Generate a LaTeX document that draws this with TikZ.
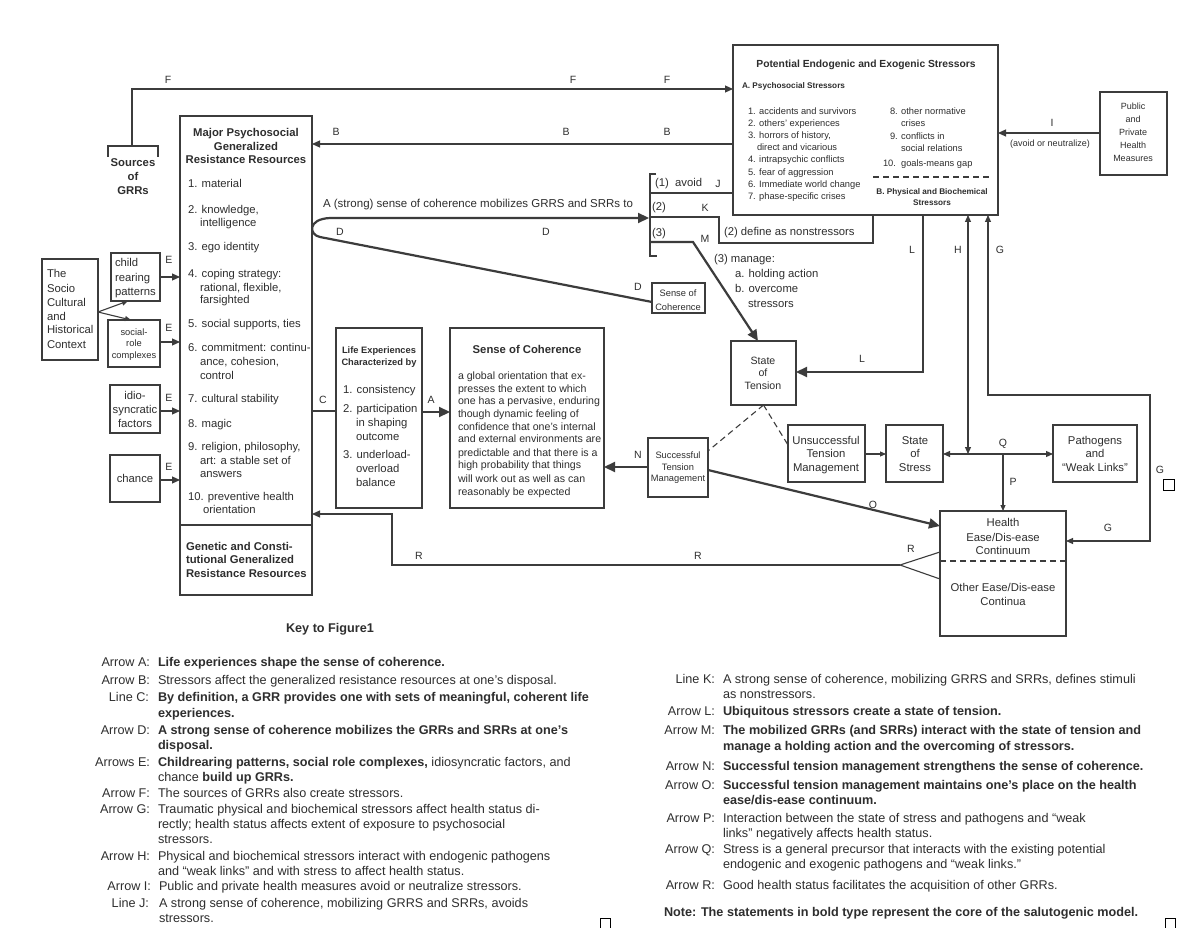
\documentclass[tikz,border=0pt]{standalone}
\usepackage{fontspec}
\setmainfont{Liberation Sans}
\usetikzlibrary{arrows.meta}
\definecolor{ink}{HTML}{2E2E2E}
\definecolor{lin}{HTML}{3C3C3C}
\newcounter{tn}
\newcommand\fsz[1]{\fontsize{#1}{#1}\selectfont}
\newcommand\tl[4][base west]{\stepcounter{tn}\node[lbl,anchor=#1] (t\arabic{tn}) at (#2,#3) {#4};}
\newcommand\bx[5]{\node[box,anchor=north west,minimum width=#4pt-#2pt,minimum height=#5pt-#3pt] (#1) at (#2,#3) {};}
\begin{document}
\begin{tikzpicture}[x=1pt,y=-1pt,
 lbl/.style={inner sep=0pt,outer sep=0pt,text=ink},
 box/.style={draw=lin,line width=1.1pt,inner sep=0pt,outer sep=0pt},
 con/.style={draw=lin,line width=1.1pt},
 arr/.style={con,-{Triangle[length=8pt,width=7pt]}},
 arrs/.style={con,-{Triangle[length=6pt,width=5pt]}},
 dbl/.style={con,{Triangle[length=7pt,width=6pt]}-{Triangle[length=7pt,width=6pt]}},
 thk/.style={draw=lin,line width=2.2pt,-{Triangle[length=11pt,width=10pt]}},
 dsh/.style={draw=lin,line width=1.1pt,dash pattern=on 6pt off 4pt},
 sq/.style={draw=black,line width=0.8pt},
]
\fill[white] (0,0) rectangle (1184,928);
\useasboundingbox (0,0) rectangle (1184,928);

% ---------------- boxes
\bx{grr}{180}{116}{312}{595}
\bx{stress}{733}{45}{998}{215}
\bx{pub}{1100}{92}{1167}{175}
\bx{ctx}{42}{259}{98}{360}
\bx{child}{111}{253}{160}{301}
\bx{social}{108}{320}{160}{367}
\bx{idio}{110}{385}{160}{433}
\bx{chance}{110}{455}{160}{502}
\bx{life}{336}{328}{422}{508}
\bx{soc}{450}{328}{604}{508}
\bx{socs}{652}{283}{705}{313}
\bx{ten}{731}{341}{796}{405}
\bx{succ}{648}{438}{708}{497}
\bx{unsu}{788}{425}{865}{482}
\bx{sts}{886}{425}{943}{482}
\bx{path}{1053}{425}{1137}{482}
\bx{hlth}{940}{511}{1066}{636}
\draw[con] (grr.west |- 0,525) -- (grr.east |- 0,525);
\draw[dsh] (hlth.west |- 0,561) -- (hlth.east |- 0,561);
\draw[dsh] (873,177) -- (992,177);

% small hollow squares
\draw[sq] (1163,479) rectangle (1174,490);
\draw[sq] (600,918) rectangle (610,928);
\draw[sq] (1165,918) rectangle (1175,928);

% ---------------- connectors
\coordinate (src) at (132,146);
\draw[con] (108,157) -- (108,146) -- (158,146) -- (158,157);
\draw[arr] (src) -- (132,89) -- (stress.west |- 0,89);
\draw[arr] (stress.west |- 0,144) -- (grr.east |- 0,144);
\draw[arr] (pub.west |- 0,133) -- (stress.east |- 0,133);
\coordinate (brk) at (650,174);
\draw[con] (656,174) -- (brk) -- (650,256) -- (657,256);
\draw[con] (650,193) -- (stress.west |- 0,193);
\draw[con] (650,217) -- (719,217) -- (719,243) -- (873,243) -- (stress.south -| 873,0);
\draw[thk] (650,242) -- (693,242) -- (ten.north -| 758,0);
\draw[thk] (socs.west |- 0,302) -- (320,237) .. controls (309,235) and (307,219) .. (330,218) -- (649,218);
\draw[arr] (child.east |- 0,277) -- (grr.west |- 0,277);
\draw[arr] (social.east |- 0,342) -- (grr.west |- 0,342);
\draw[arr] (idio.east |- 0,411) -- (grr.west |- 0,411);
\draw[arr] (chance.east |- 0,480) -- (grr.west |- 0,480);
\draw[arrs] (ctx.east |- 0,312) -- (child.south -| 128,0);
\draw[arrs] (ctx.east |- 0,312) -- (social.north -| 131,0);
\draw[con,line width=1.6pt] (grr.east |- 0,411) -- (life.west |- 0,411);
\draw[thk] (life.east |- 0,412) -- (soc.west |- 0,412);
\draw[thk] (succ.west |- 0,467) -- (soc.east |- 0,467);
\draw[thk] (stress.south -| 923,0) -- (923,372) -- (ten.east |- 0,372);
\draw[dsh] (ten.south) -- (succ.east |- 0,451);
\draw[dsh] (ten.south) -- (unsu.west |- 0,445);
\draw[arrs] (unsu.east |- 0,454) -- (sts.west |- 0,454);
\draw[thk] (succ.east |- 0,470) -- (hlth.west |- 0,526);
\draw[dbl] (sts.east |- 0,454) -- (path.west |- 0,454);
\coordinate (hq) at (968,454);
\draw[dbl] (stress.south -| 968,0) -- (hq);
\draw[arrs] (1003,454) -- (hlth.north -| 1003,0);
\draw[dbl] (stress.south -| 988,0) -- (988,395) -- (1150,395) -- (1150,541) -- (hlth.east |- 0,541);
\coordinate (rf) at (900,565);
\draw[con] (hlth.west |- 0,552) -- (rf) -- (hlth.west |- 0,579);
\draw[arr] (rf) -- (392,565) -- (392,514) -- (grr.east |- 0,514);

% ---------------- connector labels
\begin{scope}[lbl/.append style={font=\fsz{10.5}}]
\tl[center]{168}{80}{F}\tl[center]{573}{80}{F}\tl[center]{667}{80}{F}
\tl[center]{336}{132}{B}\tl[center]{566}{132}{B}\tl[center]{667}{132}{B}
\tl[center]{1052}{123}{I}
\tl[center]{718}{184}{J}\tl[center]{705}{208}{K}\tl[center]{705}{239}{M}
\tl[center]{340}{232}{D}\tl[center]{546}{232}{D}\tl[center]{638}{287}{D}
\tl[center]{169}{260}{E}\tl[center]{169}{328}{E}\tl[center]{169}{398}{E}\tl[center]{169}{467}{E}
\tl[center]{323}{400}{C}\tl[center]{431}{400}{A}
\tl[center]{912}{250}{L}\tl[center]{862}{359}{L}
\tl[center]{958}{250}{H}\tl[center]{1000}{250}{G}
\tl[center]{638}{455}{N}\tl[center]{873}{505}{O}
\tl[center]{1003}{444}{Q}\tl[center]{1013}{482}{P}
\tl[center]{1160}{470}{G}\tl[center]{1108}{528}{G}
\tl[center]{419}{556}{R}\tl[center]{698}{556}{R}\tl[center]{911}{549}{R}
\end{scope}
\tl[center]{1050}{144}{\fsz{9}(avoid or neutralize)}

% ---------------- GRR box text
\begin{scope}[lbl/.append style={font=\fsz{11.3}}]
\tl[base]{133}{167}{\bfseries Sources}\tl[base]{133}{181}{\bfseries of}\tl[base]{133}{195}{\bfseries GRRs}
\tl[base]{246}{137}{\bfseries Major Psychosocial}
\tl[base]{246}{151}{\bfseries Generalized}
\tl[base]{246}{164}{\bfseries Resistance Resources}
\tl{188}{188}{1. material}
\tl{188}{214}{2. knowledge,}\tl{200}{227}{intelligence}
\tl{188}{251}{3. ego identity}
\tl{188}{277}{4. coping strategy:}\tl{200}{291}{rational, flexible,}\tl{200}{304}{farsighted}
\tl{188}{327}{5. social supports, ties}
\tl{188}{351}{6. commitment: continu-}\tl{200}{365}{ance, cohesion,}\tl{200}{379}{control}
\tl{188}{402}{7. cultural stability}
\tl{188}{427}{8. magic}
\tl{188}{450}{9. religion, philosophy,}\tl{200}{464}{art: a stable set of}\tl{200}{477}{answers}
\tl{188}{500}{10. preventive health}\tl{203}{513}{orientation}
\tl{186}{550}{\bfseries Genetic and Consti-}
\tl{186}{563}{\bfseries tutional Generalized}
\tl{186}{577}{\bfseries Resistance Resources}
% left boxes
\tl{47}{278}{The}\tl{47}{292}{Socio}\tl{47}{306}{Cultural}\tl{47}{320}{and}\tl{47}{334}{Historical}\tl{47}{348}{Context}
\tl{115}{267}{child}\tl{115}{281}{rearing}\tl{115}{295}{patterns}
\tl[base]{135}{399}{idio-}\tl[base]{135}{413}{syncratic}\tl[base]{135}{427}{factors}
\tl[base]{135}{482}{chance}
% life
\tl{343}{393}{1. consistency}
\tl{343}{412}{2. participation}\tl{356}{426}{in shaping}\tl{356}{440}{outcome}
\tl{343}{458}{3. underload-}\tl{356}{472}{overload}\tl{356}{486}{balance}
\tl[base]{527}{353}{\bfseries Sense of Coherence}
% middle
\tl{323}{208}{\fsz{11.5}A (strong) sense of coherence mobilizes GRRS and SRRs to}
\tl{655}{187}{(1)\ \ avoid}
\tl{652}{211}{(2)}\tl{652}{237}{(3)}
\tl{724}{236}{(2) define as nonstressors}
\tl{714}{262}{(3) manage:}
\tl{735}{278}{a. holding action}
\tl{735}{293}{b. overcome}\tl{748}{307}{stressors}
% right
\tl[base]{826}{444}{Unsuccessful}\tl[base]{826}{457}{Tension}\tl[base]{826}{471}{Management}
\tl[base]{915}{444}{State}\tl[base]{915}{457}{of}\tl[base]{915}{471}{Stress}
\tl[base]{1095}{444}{Pathogens}\tl[base]{1095}{457}{and}\tl[base]{1095}{471}{“Weak Links”}
\tl[base]{1003}{526}{Health}\tl[base]{1003}{541}{Ease/Dis-ease}\tl[base]{1003}{554}{Continuum}
\tl[base]{1003}{591}{Other Ease/Dis-ease}\tl[base]{1003}{605}{Continua}
\end{scope}
\begin{scope}[lbl/.append style={font=\fsz{10.6}}]
\tl{458}{379}{a global orientation that ex-}
\tl{458}{392}{presses the extent to which}
\tl{458}{404}{one has a pervasive, enduring}
\tl{458}{417}{though dynamic feeling of}
\tl{458}{430}{confidence that one’s internal}
\tl{458}{442}{and external environments are}
\tl{458}{456}{predictable and that there is a}
\tl{458}{468}{high probability that things}
\tl{458}{482}{will work out as well as can}
\tl{458}{495}{reasonably be expected}
\tl[base]{763}{364}{State}\tl[base]{763}{376}{of}\tl[base]{763}{389}{Tension}
\end{scope}
\begin{scope}[lbl/.append style={font=\fsz{9.3}}]
\tl[base]{134}{335}{social-}\tl[base]{134}{346}{role}\tl[base]{134}{358}{complexes}
\tl[base]{678}{297}{Sense of}\tl[base]{678}{310}{Coherence}
\tl[base]{678}{458}{Successful}\tl[base]{678}{470}{Tension}\tl[base]{678}{481}{Management}
\tl[base]{379}{353}{\bfseries Life Experiences}\tl[base]{379}{365}{\bfseries Characterized by}
\tl{748}{115}{1. accidents and survivors}
\tl{748}{127}{2. others’ experiences}
\tl{748}{139}{3. horrors of history,}
\tl{757}{151}{direct and vicarious}
\tl{748}{163}{4. intrapsychic conflicts}
\tl{748}{176}{5. fear of aggression}
\tl{748}{188}{6. Immediate world change}
\tl{748}{200}{7. phase-specific crises}
\tl{890}{115}{8. other normative}\tl{901}{127}{crises}
\tl{890}{140}{9. conflicts in}\tl{901}{152}{social relations}
\tl{883}{167}{10.\ \ goals-means gap}
\end{scope}
\begin{scope}[lbl/.append style={font=\fsz{8.2}}]
\tl{742}{89}{\bfseries A. Psychosocial Stressors}
\tl[base]{932}{195}{\bfseries B. Physical and Biochemical}
\tl[base]{932}{206}{\bfseries Stressors}
\end{scope}
\begin{scope}[lbl/.append style={font=\fsz{9}}]
\tl[base]{1133}{110}{Public}\tl[base]{1133}{123}{and}\tl[base]{1133}{136}{Private}\tl[base]{1133}{149}{Health}\tl[base]{1133}{162}{Measures}
\end{scope}
\tl[base]{866}{68}{\fsz{10.3}\bfseries Potential Endogenic and Exogenic Stressors}

% ---------------- key
\begin{scope}[lbl/.append style={font=\fsz{12.65}}]
\tl[base]{330}{632}{\bfseries Key to Figure1}
\tl[base east]{150}{666}{Arrow A:}\tl{158}{666}{\bfseries Life experiences shape the sense of coherence.}
\tl[base east]{150}{684}{Arrow B:}\tl{158}{684}{Stressors affect the generalized resistance resources at one’s disposal.}
\tl[base east]{149}{701}{Line C:}\tl{158}{701}{\bfseries By definition, a GRR provides one with sets of meaningful, coherent life}
\tl{158}{717}{\bfseries experiences.}
\tl[base east]{150}{734}{Arrow D:}\tl{158}{734}{\bfseries A strong sense of coherence mobilizes the GRRs and SRRs at one’s}
\tl{158}{749}{\bfseries disposal.}
\tl[base east]{150}{766}{Arrows E:}\tl{158}{766}{\textbf{Childrearing patterns, social role complexes,} idiosyncratic factors, and}
\tl{158}{781}{chance \textbf{build up GRRs.}}
\tl[base east]{150}{797}{Arrow F:}\tl{158}{797}{The sources of GRRs also create stressors.}
\tl[base east]{150}{813}{Arrow G:}\tl{158}{813}{Traumatic physical and biochemical stressors affect health status di-}
\tl{158}{828}{rectly; health status affects extent of exposure to psychosocial}
\tl{158}{843}{stressors.}
\tl[base east]{150}{860}{Arrow H:}\tl{158}{860}{Physical and biochemical stressors interact with endogenic pathogens}
\tl{158}{875}{and “weak links” and with stress to affect health status.}
\tl[base east]{151}{890}{Arrow I:}\tl{159}{890}{Public and private health measures avoid or neutralize stressors.}
\tl[base east]{149}{907}{Line J:}\tl{159}{907}{A strong sense of coherence, mobilizing GRRS and SRRs, avoids}
\tl{159}{922}{stressors.}
%
\tl[base east]{715}{683}{Line K:}\tl{723}{683}{A strong sense of coherence, mobilizing GRRS and SRRs, defines stimuli}
\tl{723}{698}{as nonstressors.}
\tl[base east]{715}{715}{Arrow L:}\tl{723}{715}{\bfseries Ubiquitous stressors create a state of tension.}
\tl[base east]{715}{734}{Arrow M:}\tl{723}{734}{\bfseries The mobilized GRRs (and SRRs) interact with the state of tension and}
\tl{723}{750}{\bfseries manage a holding action and the overcoming of stressors.}
\tl[base east]{715}{770}{Arrow N:}\tl{723}{770}{\bfseries Successful tension management strengthens the sense of coherence.}
\tl[base east]{715}{789}{Arrow O:}\tl{723}{789}{\bfseries Successful tension management maintains one’s place on the health}
\tl{723}{804}{\bfseries ease/dis-ease continuum.}
\tl[base east]{715}{822}{Arrow P:}\tl{723}{822}{Interaction between the state of stress and pathogens and “weak}
\tl{723}{837}{links” negatively affects health status.}
\tl[base east]{715}{853}{Arrow Q:}\tl{723}{853}{Stress is a general precursor that interacts with the existing potential}
\tl{723}{868}{endogenic and exogenic pathogens and “weak links.”}
\tl[base east]{715}{889}{Arrow R:}\tl{723}{889}{Good health status facilitates the acquisition of other GRRs.}
\tl{664}{916}{\bfseries Note: The statements in bold type represent the core of the salutogenic model.}
\end{scope}
\end{tikzpicture}
\end{document}
